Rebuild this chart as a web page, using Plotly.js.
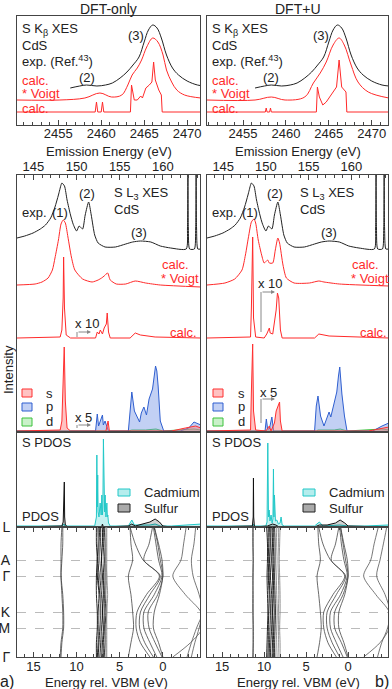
<!DOCTYPE html>
<html>
<head>
<meta charset="utf-8">
<script src="https://cdn.plot.ly/plotly-3.0.1.min.js"></script>
<style>
  body { margin: 0; background: #fff; }
  #plot { width: 392px; height: 689px; }
</style>
</head>
<body>
<div id="plot"></div>
<script>
// ---------- S K-beta XES (top panels), emission energy in eV ----------
var kbExpE = [2456.4, 2457.5, 2458.3, 2459.5, 2460.5, 2461.3, 2462.2, 2463.0, 2463.7, 2464.4, 2465.0, 2465.5, 2466.0, 2466.5, 2467.0, 2467.6, 2468.3, 2469.0, 2470.0, 2471.2, 2472.0];
var kbExpI = [1, 3, 4, 3, 4, 6, 11, 17, 24, 32, 47, 59, 64, 61, 51, 34, 21, 14, 8, 4, 3];

var kbVoigtE_L = [2450.2, 2455.2, 2458.1, 2459.85, 2461.2, 2462.4, 2463.1, 2463.6, 2464.2, 2464.7, 2465.3, 2466.0, 2466.6, 2467.2, 2467.6, 2468.2, 2468.8, 2469.7, 2471.6];
var kbVoigtI_L = [0, 0, 2, 7, 3, 5, 15, 25, 32, 40, 53, 62, 58, 45, 30, 18, 10, 5, 2];
var kbCalcE_L = [2450.2, 2459.3, 2459.45, 2459.6, 2460.0, 2460.15, 2460.3, 2463.4, 2463.53, 2463.85, 2464.2, 2464.6, 2464.8, 2465.2, 2465.6, 2465.9, 2466.1, 2466.3, 2466.7, 2467.0, 2467.1, 2471.6];
var kbCalcI_L = [0, 0, 10, 0, 0, 10, 0, 0, 27, 12, 12, 16, 14, 24, 27, 30, 50, 32, 22, 17, 0, 0];

var kbVoigtE_R = [2450.8, 2456.4, 2458.3, 2459.9, 2462.2, 2463.2, 2464.0, 2464.7, 2465.5, 2466.2, 2466.8, 2467.6, 2468.4, 2469.6, 2472.0];
var kbVoigtI_R = [0, 0, 3, 0, 3, 17, 27, 38, 55, 62, 55, 35, 18, 8, 2];
var kbCalcE_R = [2450.8, 2457.6, 2457.7, 2457.8, 2458.1, 2458.2, 2458.3, 2463.55, 2463.67, 2463.9, 2464.3, 2464.7, 2465.1, 2465.5, 2465.9, 2466.2, 2466.5, 2466.8, 2467.0, 2467.1, 2472.0];
var kbCalcI_R = [0, 0, 4, 0, 0, 4, 0, 0, 25, 15, 7, 10, 15, 20, 25, 52, 25, 22, 20, 0, 0];

// ---------- S L3 XES (middle panels) ----------
var l3ExpE = [143.1, 144.0, 144.96, 145.8, 146.4, 147.0, 147.5, 147.9, 148.2, 148.3, 148.6, 148.9, 149.3, 149.6, 150.0, 150.3, 150.7, 151.0, 151.4, 151.7, 152.1, 152.5, 153.3, 154.5, 155.7, 156.5, 157.4, 158.6, 159.7, 160.9, 162.7, 162.85, 162.9, 162.95, 163.1, 163.65, 163.8, 163.85, 163.9, 164.05, 164.4];
var l3ExpI = [10, 12, 15, 19, 23, 30, 41, 53, 63, 65, 62, 48, 33, 24, 17, 22, 19, 33, 46, 33, 13, 5, 1, 1, 4, 6, 7, 6, 2, 0, -1, 20, 120, 20, -1, -1, 20, 120, 20, -1, -1];

var l3VoigtE_L = [143.1, 145.2, 146.0, 146.7, 147.2, 147.5, 147.9, 148.2, 148.45, 148.7, 149.0, 149.4, 149.8, 150.7, 151.8, 152.5, 152.9, 153.2, 153.6, 153.9, 154.6, 155.7, 156.8, 158.0, 159.7, 164.4];
var l3VoigtI_L = [0, 1, 3, 7, 15, 27, 45, 61, 65, 62, 48, 28, 15, 6, 3, 5, 7, 9, 12, 5, 1, 1, 4, 2, 0, -2];
var l3CalcE_L = [143.1, 148.1, 148.3, 148.45, 148.5, 148.6, 148.8, 149.3, 152.2, 152.4, 152.6, 152.75, 153.0, 153.2, 153.45, 153.55, 153.7, 153.9, 156.2, 156.8, 157.4, 159.1, 164.4];
var l3CalcI_L = [0, 1, 8, 40, 81, 30, 3, 0, 0, 6, 4, 8, 4, 10, 14, 25, 6, 0, 0, 5, 3, 1, 0];

var sPdosE_L = [143.1, 148.1, 148.3, 148.45, 148.57, 148.7, 148.9, 149.3, 153.4, 153.55, 153.65, 153.8, 161.0, 162.6, 163.8, 164.4];
var sPdosI_L = [0, 1, 10, 50, 84, 30, 3, 0, 0, 6, 10, 0, 0, 3, 5, 3];
var pPdosE_L = [143.1, 152.2, 152.4, 152.55, 152.75, 153.0, 153.1, 153.3, 153.45, 153.7, 156.0, 156.2, 156.4, 156.7, 157.0, 157.3, 157.5, 157.8, 158.1, 158.4, 158.8, 159.0, 159.15, 159.3, 159.45, 159.7, 160.1, 162.0, 163.0, 163.6, 164.4];
var pPdosI_L = [0, 0, 17, 5, 10, 16, 6, 10, 6, 0, 0, 20, 39, 20, 15, 9, 18, 24, 16, 32, 42, 55, 65, 60, 45, 10, 0, 0, 3, 9, 6];
var dPdosE_L = [143.1, 156.0, 156.4, 158.0, 159.2, 160.0, 163.6, 164.4];
var dPdosI_L = [0, 0, 1, 1, 2, 0, 2, 1];

var l3VoigtE_R = [143.1, 145.2, 146.35, 147.2, 147.6, 148.0, 148.3, 148.6, 148.8, 149.1, 149.5, 149.8, 150.2, 150.4, 150.8, 151.1, 151.4, 151.6, 152.0, 152.4, 153.3, 155.1, 156.2, 156.8, 158.6, 164.4];
var l3VoigtI_R = [0, 2, 6, 15, 30, 50, 63, 66, 62, 45, 30, 22, 25, 22, 22, 35, 47, 42, 20, 7, 2, 2, 4, 3, 1, -1];
var l3CalcE_R = [143.1, 148.2, 148.3, 148.45, 148.55, 148.8, 149.8, 150.1, 150.4, 150.5, 150.8, 151.0, 151.2, 151.35, 151.5, 151.7, 151.9, 155.7, 156.2, 157.4, 164.4];
var l3CalcI_R = [0, 1, 30, 101, 20, 1, 0, 4, 10, 5, 4, 15, 28, 45, 40, 8, 0, 0, 4, 2, 0];

var sPdosE_R = [143.1, 148.2, 148.3, 148.45, 148.55, 148.8, 150.0, 150.4, 150.6, 151.0, 151.2, 151.4, 151.6, 151.7, 151.9, 162.0, 163.6, 164.4];
var sPdosI_R = [0, 1, 40, 87, 20, 1, 0, 5, 0, 8, 20, 25, 29, 10, 0, 0, 3, 4];
var pPdosE_R = [143.1, 149.9, 150.05, 150.2, 150.4, 150.7, 150.9, 155.7, 155.9, 156.1, 156.4, 156.8, 157.1, 157.4, 157.6, 158.0, 158.3, 158.5, 158.65, 158.9, 159.2, 159.5, 162.5, 163.6, 164.4];
var pPdosI_R = [0, 0, 12, 2, 2, 14, 0, 0, 25, 35, 15, 5, 12, 19, 14, 27, 39, 55, 64, 37, 15, 0, 0, 5, 8];
var dPdosE_R = [143.1, 155.9, 156.1, 158.0, 158.7, 159.5, 163.6, 164.4];
var dPdosI_R = [0, 0, 1, 1, 2, 0, 2, 1];

// ---------- PDOS vs energy rel. VBM (eV) ----------
var cdE_L = [17, 11.7, 11.45, 11.35, 11.0, 7.9, 7.7, 7.65, 7.6, 7.55, 7.5, 7.4, 7.27, 7.15, 7.07, 7.0, 6.95, 6.89, 6.82, 6.75, 6.69, 6.6, 6.49, 6.43, 6.38, 6.3, 6.1, 4.0, 3.6, 3.3, 1.5, 0.9, 0.3, -1.0, -3.0, -4.5];
var cdI_L = [1, 1, 3, 1, 1, 1, 10, 72, 20, 52, 15, 10, 24, 12, 32, 12, 20, 88, 25, 15, 32, 10, 24, 10, 12, 4, 1, 1, 7, 2, 2, 3, 1, 1, 2, 3];
var sE_L = [17, 11.7, 11.55, 11.45, 11.42, 11.38, 11.3, 11.0, 7.1, 7.0, 6.9, 4.0, 3.6, 3.2, 2.3, 1.5, 0.9, 0.4, 0.0, -1.0, -4.5];
var sI_L = [0, 1, 5, 30, 45, 10, 2, 0, 0, 3, 0, 1, 3, 1, 3, 5, 8, 5, 1, 0, 0];

var cdE_R = [17, 11.4, 11.3, 11.2, 9.8, 9.65, 9.56, 9.48, 9.4, 9.3, 9.17, 9.05, 8.95, 8.89, 8.83, 8.77, 8.65, 8.49, 8.3, 8.1, 7.98, 7.85, 7.6, 4.0, 3.42, 3.0, 1.0, 0.0, -2.0, -4.8];
var cdI_R = [1, 1, 3, 1, 1, 5, 84, 10, 17, 6, 12, 4, 8, 58, 10, 32, 6, 7, 3, 4, 10, 2, 1, 1, 5, 1, 2, 1, 1, 2];
var sE_R = [17, 11.4, 11.3, 11.27, 11.24, 11.15, 9.6, 9.0, 8.6, 8.2, 4.0, 3.42, 2.5, 1.5, 0.95, 0.4, 0, -4.8];
var sI_R = [0, 1, 10, 49, 10, 0, 1, 3, 2, 0, 0, 2, 2, 4, 7, 4, 1, 0];

// ---------- band structure: energy rel. VBM at points along the k path ----------
var kPath = [0, 0.13, 0.254, 0.377, 0.52, 0.654, 0.777, 0.89, 1.0];
var kTickPos = [0, 0.254, 0.377, 0.654, 0.777, 1.0];
var kTickText = ['L', 'A', 'Γ', 'K', 'M', 'Γ'];

var s3sBands_L = [
  [11.6, 11.6, 11.7, 11.8, 11.7, 11.6, 11.6, 11.8, 11.9],
  [11.7, 11.8, 11.8, 11.8, 11.6, 11.5, 11.5, 11.7, 11.8]
];
var cd4dBands_L = [
  [7.7, 7.7, 7.6, 7.7, 7.7, 7.6, 7.6, 7.7, 7.7],
  [7.5, 7.5, 7.6, 7.6, 7.4, 7.5, 7.5, 7.5, 7.6],
  [7.3, 7.4, 7.4, 7.5, 7.3, 7.2, 7.3, 7.4, 7.5],
  [7.2, 7.2, 7.1, 7.3, 7.1, 7.0, 7.1, 7.2, 7.3],
  [7.0, 7.0, 7.1, 7.0, 6.9, 7.0, 6.9, 7.0, 7.1],
  [6.9, 6.9, 6.8, 6.9, 6.8, 6.8, 6.8, 6.9, 6.9],
  [6.8, 6.7, 6.7, 6.7, 6.7, 6.6, 6.7, 6.7, 6.8],
  [6.6, 6.6, 6.6, 6.5, 6.6, 6.5, 6.6, 6.6, 6.6],
  [6.5, 6.5, 6.5, 6.5, 6.4, 6.5, 6.5, 6.5, 6.5],
  [7.6, 7.4, 7.3, 7.1, 7.2, 7.3, 7.2, 7.1, 7.0]
];
var vbBands_L = [
  [3.8, 3.7, 3.5, 4.0, 3.7, 3.5, 3.4, 3.7, 4.0],
  [3.8, 3.2, 2.3, 0.4, 1.9, 3.0, 3.1, 2.6, 1.5],
  [1.2, 1.6, 2.2, 0.3, 1.5, 2.6, 2.7, 2.1, 1.1],
  [1.1, 0.8, 0.5, 0.1, 1.0, 2.2, 2.2, 1.5, 0.7],
  [1.0, 0.6, 0.3, 0.0, 0.6, 1.7, 1.6, 0.9, 0.1],
  [1.0, 0.5, 0.1, 0.0, 0.4, 1.0, 1.1, 0.5, 0.0]
];
var cbBands_L = [
  [-2.7, -2.4, -2.1, -1.15, -2.6, -4.4, -4.6, -3.2, -1.15],
  [-3.8, -3.6, -3.3, -3.5, -4.2, -4.6, -3.9, -3.3, -2.8],
  [-4.4, -4.6, -4.6, -4.6, -4.6, -4.6, -4.2, -3.7, -3.3]
];

var s3sBands_R = [
  [11.3, 11.3, 11.3, 11.35, 11.3, 11.3, 11.3, 11.3, 11.35],
  [11.35, 11.35, 11.3, 11.3, 11.35, 11.35, 11.3, 11.3, 11.3]
];
var cd4dBands_R = [
  [9.7, 9.6, 9.6, 9.65, 9.6, 9.55, 9.6, 9.65, 9.7],
  [9.5, 9.5, 9.45, 9.5, 9.4, 9.45, 9.5, 9.5, 9.55],
  [9.35, 9.3, 9.35, 9.4, 9.3, 9.25, 9.3, 9.35, 9.4],
  [9.2, 9.2, 9.15, 9.25, 9.1, 9.05, 9.1, 9.2, 9.25],
  [9.05, 9.0, 9.05, 9.0, 8.95, 9.0, 8.95, 9.0, 9.05],
  [8.9, 8.9, 8.85, 8.9, 8.85, 8.8, 8.85, 8.9, 8.9],
  [8.75, 8.7, 8.7, 8.75, 8.7, 8.65, 8.7, 8.75, 8.75],
  [8.5, 8.55, 8.6, 8.55, 8.5, 8.45, 8.5, 8.55, 8.6],
  [8.3, 8.3, 8.35, 8.3, 8.25, 8.3, 8.3, 8.3, 8.35],
  [8.1, 8.15, 8.2, 8.15, 8.1, 8.1, 8.15, 8.1, 8.1]
];
var vbBands_R = [
  [3.6, 3.5, 3.3, 3.7, 3.5, 3.3, 3.2, 3.4, 3.7],
  [3.5, 3.0, 2.1, 0.4, 1.8, 2.9, 2.9, 2.4, 1.4],
  [1.1, 1.5, 2.0, 0.3, 1.4, 2.5, 2.5, 1.9, 1.0],
  [1.0, 0.8, 0.5, 0.1, 0.9, 2.1, 2.1, 1.4, 0.6],
  [0.9, 0.6, 0.3, 0.0, 0.6, 1.6, 1.6, 0.8, 0.1],
  [0.9, 0.5, 0.1, 0.0, 0.4, 1.1, 1.1, 0.5, 0.0]
];
var cbBands_R = [
  [-3.6, -3.1, -2.7, -1.85, -3.3, -4.9, -4.9, -3.8, -1.85],
  [-4.6, -4.2, -3.8, -3.4, -4.4, -5.0, -4.7, -4.0, -3.5]
];

// ---------- helpers ----------
var W = 392, H = 689;
var RED = '#ff2a2a', FONT = 'Liberation Sans, Arial, sans-serif';
var FS = 13;
var traces = [];

function shift(arr, off) { return arr.map(function (v) { return v + off; }); }

function line(xa, ya, x, y, color, width, extra) {
  traces.push(Object.assign({
    type: 'scatter', mode: 'lines', x: x, y: y, xaxis: xa, yaxis: ya,
    line: { color: color, width: width }, hoverinfo: 'skip', showlegend: false
  }, extra || {}));
}

function filled(xa, ya, x, y, color, fill) {
  line(xa, ya, x, y, color, 1, { fill: 'tozeroy', fillcolor: fill });
}

function bands(xa, ya, list, color, width) {
  list.forEach(function (b) {
    line(xa, ya, b, kPath, color, width, { line: { color: color, width: width, shape: 'spline', smoothing: 0.8 } });
  });
}

// one column of panels
function column(ax, d) {
  var t = ax[0], m = ax[1], p = ax[2], b = ax[3];
  // top: K-beta
  line('x' + t, 'y' + t, kbExpE, shift(kbExpI, 36), '#222', 1, { line: { color: '#222', width: 1, shape: 'spline' } });
  line('x' + t, 'y' + t, d.kbVE, shift(d.kbVI, 25), RED, 1, { line: { color: RED, width: 1, shape: 'spline' } });
  line('x' + t, 'y' + t, d.kbCE, shift(d.kbCI, 13), RED, 1);
  // middle: L3
  line('x' + m, 'y' + m, l3ExpE, shift(l3ExpI, 184), '#222', 1, { line: { color: '#222', width: 1, shape: 'spline', smoothing: 0.6 } });
  line('x' + m, 'y' + m, d.l3VE, shift(d.l3VI, 147), RED, 1, { line: { color: RED, width: 1, shape: 'spline', smoothing: 0.6 } });
  line('x' + m, 'y' + m, d.l3CE, shift(d.l3CI, 94), RED, 1);
  filled('x' + m, 'y' + m, d.dE, shift(d.dI, 1), '#3cc23c', 'rgba(120,220,120,0.4)');
  filled('x' + m, 'y' + m, d.pE, shift(d.pI, 1), '#2f5fd0', 'rgba(120,150,230,0.45)');
  filled('x' + m, 'y' + m, d.sE, shift(d.sI, 1), '#ff3030', 'rgba(255,120,120,0.45)');
  // PDOS
  filled('x' + p, 'y' + p, d.cdE, d.cdI, '#22c8c8', 'rgba(90,215,215,0.35)');
  filled('x' + p, 'y' + p, d.suE, d.suI, '#111', 'rgba(0,0,0,0.18)');
  // bands
  bands('x' + b, 'y' + b, d.s3s, '#444', 0.8);
  bands('x' + b, 'y' + b, d.cd4d.slice(0, 7), '#111', 0.9);
  bands('x' + b, 'y' + b, d.cd4d.slice(7), '#888', 0.9);
  bands('x' + b, 'y' + b, d.vb, '#444', 0.8);
  bands('x' + b, 'y' + b, d.cb, '#555', 0.8);
}

column([1, 2, 3, 4], {
  kbVE: kbVoigtE_L, kbVI: kbVoigtI_L, kbCE: kbCalcE_L, kbCI: kbCalcI_L,
  l3VE: l3VoigtE_L, l3VI: l3VoigtI_L, l3CE: l3CalcE_L, l3CI: l3CalcI_L,
  sE: sPdosE_L, sI: sPdosI_L, pE: pPdosE_L, pI: pPdosI_L, dE: dPdosE_L, dI: dPdosI_L,
  cdE: cdE_L, cdI: cdI_L, suE: sE_L, suI: sI_L,
  s3s: s3sBands_L, cd4d: cd4dBands_L, vb: vbBands_L, cb: cbBands_L
});
column([5, 6, 7, 8], {
  kbVE: kbVoigtE_R, kbVI: kbVoigtI_R, kbCE: kbCalcE_R, kbCI: kbCalcI_R,
  l3VE: l3VoigtE_R, l3VI: l3VoigtI_R, l3CE: l3CalcE_R, l3CI: l3CalcI_R,
  sE: sPdosE_R, sI: sPdosI_R, pE: pPdosE_R, pI: pPdosI_R, dE: dPdosE_R, dI: dPdosI_R,
  cdE: cdE_R, cdI: cdI_R, suE: sE_R, suI: sI_R,
  s3s: s3sBands_R, cd4d: cd4dBands_R, vb: vbBands_R, cb: cbBands_R
});

// ---------- axes ----------
function dom(a, b, size) { return [a / size, b / size]; }
function ydom(top, bottom) { return [1 - bottom / H, 1 - top / H]; }

function base(extra) {
  return Object.assign({
    showline: true, mirror: true, linecolor: '#444', linewidth: 1,
    zeroline: false, showgrid: false, ticks: '', showticklabels: false, fixedrange: true
  }, extra);
}
function tickAxis(extra) {
  return base(Object.assign({
    ticks: 'inside', ticklen: 5, tickcolor: '#444', dtick: 5, showticklabels: true,
    tickfont: { family: FONT, size: FS, color: '#222' },
    minor: { dtick: 1, ticks: 'inside', ticklen: 3, tickcolor: '#444' }
  }, extra));
}

var colX = [dom(17, 200, W), dom(207, 388, W)];
var rowY = [ydom(16, 125), ydom(175, 432), ydom(432, 527), ydom(527, 657)];

var layout = {
  width: W, height: H, margin: { l: 0, r: 0, t: 0, b: 0 },
  paper_bgcolor: '#fff', plot_bgcolor: '#fff', showlegend: false,
  font: { family: FONT, size: FS, color: '#222' },
  annotations: [], shapes: []
};

[0, 1].forEach(function (c) {
  var n = c * 4;
  var xd = colX[c];
  layout['xaxis' + (n + 1)] = tickAxis({ domain: xd, anchor: 'y' + (n + 1), range: c ? [2450.8, 2471.9] : [2450.2, 2471.5], tick0: 2455, ticklabelstandoff: -4 });
  layout['yaxis' + (n + 1)] = base({ domain: rowY[0], anchor: 'x' + (n + 1), range: [0, 109] });
  layout['xaxis' + (n + 2)] = tickAxis({ domain: xd, anchor: 'y' + (n + 2), side: 'top', range: [143.1, 164.3], tick0: 145, ticklabelstandoff: -2 });
  layout['yaxis' + (n + 2)] = base({ domain: rowY[1], anchor: 'x' + (n + 2), range: [0, 257] });
  var vbmRange = c ? [16.8, -4.75] : [16.9, -4.3];
  layout['xaxis' + (n + 3)] = base({ domain: xd, anchor: 'y' + (n + 3), range: vbmRange });
  layout['yaxis' + (n + 3)] = base({ domain: rowY[2], anchor: 'x' + (n + 3), range: [0, 95] });
  layout['xaxis' + (n + 4)] = tickAxis({ domain: xd, anchor: 'y' + (n + 4), range: vbmRange, tick0: 0, mirror: 'ticks', ticklabelstandoff: -3 });
  layout['yaxis' + (n + 4)] = base({
    domain: rowY[3], anchor: 'x' + (n + 4), range: [1, 0],
    tickmode: 'array', tickvals: kTickPos, ticktext: kTickText,
    showticklabels: c === 0, ticklabelstandoff: 3,
    tickfont: { family: FONT, size: 14, color: '#222' },
    showgrid: true, gridcolor: '#aaa', griddash: 'dash', gridwidth: 0.8
  });
});

// ---------- text ----------
function txt(text, x, y, opts) {
  var a = Object.assign({
    xref: 'paper', yref: 'paper', x: x / W, y: 1 - y / H, text: text,
    showarrow: false, xanchor: 'left', yanchor: 'middle',
    font: { family: FONT, size: FS, color: '#222' }
  }, opts || {});
  layout.annotations.push(a);
}
function red(o) { return Object.assign({ font: { family: FONT, size: FS, color: RED } }, o || {}); }

txt('DFT-only', 108.5, 9, { xanchor: 'center', font: { family: FONT, size: 14, color: '#222' } });
txt('DFT+U', 297.5, 9, { xanchor: 'center', font: { family: FONT, size: 14, color: '#222' } });
txt('Emission Energy (eV)', 109, 151, { xanchor: 'center' });
txt('Emission Energy (eV)', 298, 151, { xanchor: 'center' });
txt('Energy rel. VBM (eV)', 106, 682, { xanchor: 'center' });
txt('Energy rel. VBM (eV)', 298, 682, { xanchor: 'center' });
txt('a)', 7, 681, { xanchor: 'center', font: { family: FONT, size: 16, color: '#222' } });
txt('b)', 382, 681, { xanchor: 'center', font: { family: FONT, size: 16, color: '#222' } });
txt('Intensity', 8, 370, { xanchor: 'center', textangle: -90 });

[[20, 136, 87], [210, 321, 271]].forEach(function (p) {
  txt('S K<sub>β</sub> XES', p[0], 30);
  txt('CdS', p[0], 45);
  txt('exp. (Ref.<sup>43</sup>)', p[0], 61);
  txt('(3)', p[1], 35, { xanchor: 'center' });
  txt('(2)', p[2], 77, { xanchor: 'center' });
  txt('calc.', p[0], 80, red());
  txt('* Voigt', p[0], 94, red());
  txt('calc.', p[0], 108, red());
});

[[112, 20, 60, 87, 139, 160, 199], [298, 210, 250, 275, 329, 350, 389]].forEach(function (p) {
  txt('S L<sub>3</sub> XES', p[0], 193);
  txt('CdS', p[0], 209);
  txt('exp.', p[1], 212);
  txt('(1)', p[2], 212, { xanchor: 'center' });
  txt('(2)', p[3], 194, { xanchor: 'center' });
  txt('(3)', p[4], 233, { xanchor: 'center' });
  txt('calc.', p[5], 264, red());
  txt('* Voigt', p[5] - 1, 279, red());
  txt('calc.', p[6], 332, red({ xanchor: 'right' }));
});

// "x 10" / "x 5" scale markers
function scaleMark(label, tx, ty, x0, yFoot, yArm, x1) {
  txt(label, tx, ty, { xanchor: 'center' });
  layout.shapes.push({ type: 'line', xref: 'paper', yref: 'paper', x0: x0 / W, x1: x0 / W, y0: 1 - yFoot / H, y1: 1 - yArm / H, line: { color: '#888', width: 1 } });
  layout.annotations.push({ xref: 'paper', yref: 'paper', x: x1 / W, y: 1 - yArm / H, ax: -(x1 - x0), ay: 0, text: '', showarrow: true, arrowhead: 2, arrowsize: 0.8, arrowwidth: 1, arrowcolor: '#888', standoff: 0 });
}
scaleMark('x 10', 87, 323, 77, 337, 332, 91);
scaleMark('x 5', 83, 417, 77, 428, 425, 91);
scaleMark('x 10', 270, 283, 261, 332, 292, 275);
scaleMark('x 5', 268, 392, 261, 423, 399, 275);

// hand-drawn legend boxes
function box(x0, y0, x1, y1, fill, stroke) {
  layout.shapes.push({ type: 'rect', xref: 'paper', yref: 'paper', x0: x0 / W, x1: x1 / W, y0: 1 - y1 / H, y1: 1 - y0 / H, fillcolor: fill, line: { color: stroke, width: 1 } });
}
[[22, 44], [213, 236]].forEach(function (p) {
  box(p[0], 389, p[0] + 10, 397, 'rgba(255,120,120,0.45)', '#ff3030');
  box(p[0], 403, p[0] + 10, 411, 'rgba(120,150,230,0.45)', '#2f5fd0');
  box(p[0], 418, p[0] + 10, 426, 'rgba(120,220,120,0.4)', '#3cc23c');
  txt('s', p[1], 393);
  txt('p', p[1], 407);
  txt('d', p[1], 421);
});
[[20, 118, 142], [210, 303, 327]].forEach(function (p) {
  txt('S PDOS', p[0], 442);
  txt('PDOS', p[0], 516);
  box(p[1], 489, p[1] + 12, 496, 'rgba(90,215,215,0.45)', '#22c8c8');
  box(p[1], 504, p[1] + 12, 512, '#aaa', '#222');
  txt('Cadmium', p[2], 492);
  txt('Sulfur', p[2], 508);
});

Plotly.newPlot('plot', traces, layout, { staticPlot: true, displayModeBar: false });
</script>
</body>
</html>
